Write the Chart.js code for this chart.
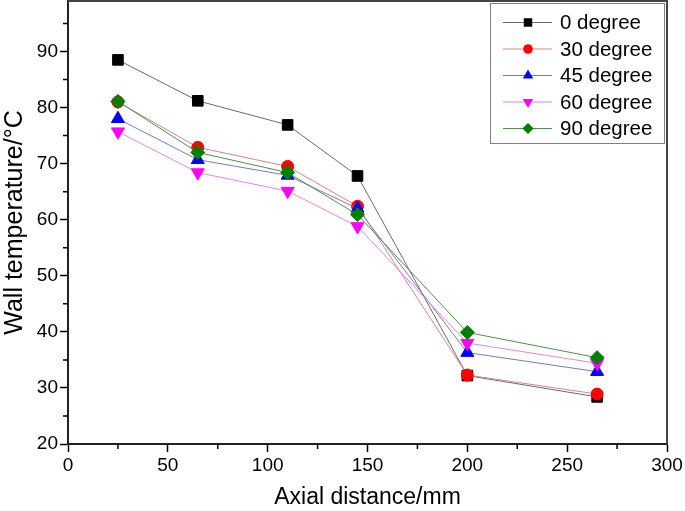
<!DOCTYPE html>
<html>
<head>
<meta charset="utf-8">
<script src="https://cdn.jsdelivr.net/npm/chart.js@4"></script>
<style>
  html, body { margin: 0; padding: 0; background: #fff; }
</style>
</head>
<body>
<canvas id="wall-chart" width="685" height="511"></canvas>
<script>
// values
let distance = [25, 65, 110, 145, 200, 265];
let deg0  = [88.5, 81.2, 76.9, 67.8, 32.2, 28.4];
let deg30 = [81.0, 72.9, 69.5, 62.4, 32.3, 28.9];
let deg45 = [78.0, 70.7, 67.9, 62.0, 36.3, 32.9];
let deg60 = [75.7, 68.4, 65.1, 58.8, 38.0, 34.4];
let deg90 = [81.1, 72.0, 68.4, 60.9, 39.9, 35.4];
let seriesNames = ['0 degree', '30 degree', '45 degree', '60 degree', '90 degree'];
let xTicks = [0, 50, 100, 150, 200, 250, 300];
let yTicks = [20, 30, 40, 50, 60, 70, 80, 90];
let xMinor = [25, 75, 125, 175, 225, 275];
let yMinor = [25, 35, 45, 55, 65, 75, 85, 95];

const FONT = "'Liberation Sans', Arial, sans-serif";

function pts(ys) {
    return distance.map((x, i) => ({ x: x, y: ys[i] }));
}

// marker look for each series
let styles = [
    { fill: '#000000', line: '#6a6a6a', shape: 'rect', r: 7.5, rot: 0 },
    { fill: '#ff0000', line: '#d08888', shape: 'circle', r: 6, rot: 0 },
    { fill: '#0000ff', line: '#7878c0', shape: 'triangle', r: 7.5, rot: 0 },
    { fill: '#ff00ff', line: '#e088e0', shape: 'triangle', r: 7.5, rot: 180 },
    { fill: '#008000', line: '#4f8f4f', shape: 'rectRot', r: 7, rot: 0 }
];
let allValues = [deg0, deg30, deg45, deg60, deg90];

// later series sit on top, like in the original plot
let datasets = allValues.map((vals, i) => ({
    label: seriesNames[i],
    data: pts(vals),
    order: allValues.length - 1 - i,
    borderColor: styles[i].line,
    borderWidth: 1,
    backgroundColor: styles[i].fill,
    pointBackgroundColor: styles[i].fill,
    pointBorderColor: styles[i].fill,
    pointBorderWidth: 1,
    pointStyle: styles[i].shape,
    pointRotation: styles[i].rot,
    pointRadius: styles[i].r,
    tension: 0
}));

function drawMarker(ctx, s, x, y, r) {
    ctx.save();
    ctx.fillStyle = s.fill;
    ctx.beginPath();
    if (s.shape === 'rect') {
        let h = r * Math.SQRT1_2;
        ctx.rect(x - h, y - h, 2 * h, 2 * h);
    } else if (s.shape === 'circle') {
        ctx.arc(x, y, r, 0, Math.PI * 2);
    } else if (s.shape === 'rectRot') {
        ctx.moveTo(x, y - r); ctx.lineTo(x + r, y); ctx.lineTo(x, y + r); ctx.lineTo(x - r, y);
    } else {
        let d = s.rot === 180 ? -1 : 1;
        let a = r * 0.866;
        ctx.moveTo(x, y - d * r);
        ctx.lineTo(x + a, y + d * r * 0.5);
        ctx.lineTo(x - a, y + d * r * 0.5);
    }
    ctx.closePath();
    ctx.fill();
    ctx.restore();
}

// frame, minor ticks and the boxed legend
let extras = {
    id: 'extras',
    afterDraw(chart) {
        let ctx = chart.ctx;
        let a = chart.chartArea;
        let xs = chart.scales.x, ys = chart.scales.y;

        ctx.save();
        ctx.strokeStyle = '#444';
        ctx.lineWidth = 2;
        ctx.beginPath();
        ctx.moveTo(a.left, a.top); ctx.lineTo(a.right, a.top); ctx.lineTo(a.right, a.bottom);
        ctx.stroke();

        ctx.strokeStyle = '#000';
        ctx.lineWidth = 1.5;
        ctx.beginPath();
        xMinor.forEach(v => {
            let px = xs.getPixelForValue(v);
            ctx.moveTo(px, a.bottom); ctx.lineTo(px, a.bottom + 5);
        });
        yMinor.forEach(v => {
            let py = ys.getPixelForValue(v);
            ctx.moveTo(a.left, py); ctx.lineTo(a.left - 5, py);
        });
        ctx.stroke();

        // legend box
        let bw = 174, bh = 140;
        let bx = a.right - 3 - bw, by = a.top + 2;
        ctx.fillStyle = '#fff';
        ctx.fillRect(bx, by, bw, bh);
        ctx.strokeStyle = '#808080';
        ctx.lineWidth = 1;
        ctx.strokeRect(bx + 0.5, by + 0.5, bw, bh);

        ctx.font = '20.5px ' + FONT;
        ctx.textBaseline = 'middle';
        ctx.textAlign = 'left';
        seriesNames.forEach((name, i) => {
            let cy = by + 19.5 + i * 26.5;
            ctx.strokeStyle = styles[i].line;
            ctx.lineWidth = 1;
            ctx.beginPath();
            ctx.moveTo(bx + 13, cy); ctx.lineTo(bx + 62, cy);
            ctx.stroke();
            drawMarker(ctx, styles[i], bx + 38, cy, styles[i].r * 0.8);
            ctx.fillStyle = '#000';
            ctx.fillText(name, bx + 70, cy + 1);
        });
        ctx.restore();
    }
};

let chartCanvas = document.querySelector('#wall-chart');
let ctx = chartCanvas.getContext('2d');

let chart = new Chart(ctx, {
    type: 'line',
    data: { datasets: datasets },
    plugins: [extras],
    options: {
        responsive: false,
        animation: false,
        layout: { autoPadding: false, padding: { top: 1, right: 18, left: 0, bottom: 0 } },
        plugins: {
            legend: { display: false },
            tooltip: { enabled: false }
        },
        scales: {
            x: {
                type: 'linear',
                min: 0,
                max: 300,
                afterBuildTicks: s => { s.ticks = xTicks.map(v => ({ value: v })); },
                afterFit: s => { s.height = 67; s.paddingLeft = 0; s.paddingRight = 0; },
                grid: { drawOnChartArea: false, tickLength: 8, tickColor: '#000', tickWidth: 1.5 },
                border: { color: '#222', width: 2 },
                ticks: { color: '#000', font: { family: FONT, size: 19 }, padding: 2, maxRotation: 0 },
                title: { display: true, text: 'Axial distance/mm', color: '#000',
                         font: { family: FONT, size: 23 }, padding: 0 }
            },
            y: {
                min: 20,
                max: 99,
                afterBuildTicks: s => { s.ticks = yTicks.map(v => ({ value: v })); },
                afterFit: s => { s.width = 68; s.paddingTop = 0; s.paddingBottom = 0; },
                grid: { drawOnChartArea: false, tickLength: 8, tickColor: '#000', tickWidth: 1.5 },
                border: { color: '#222', width: 2 },
                ticks: { color: '#000', font: { family: FONT, size: 19 }, padding: 2 },
                title: { display: true, text: 'Wall temperature/°C', color: '#000',
                         font: { family: FONT, size: 25 }, padding: { top: 0, bottom: 0 } }
            }
        }
    }
});
</script>
</body>
</html>
